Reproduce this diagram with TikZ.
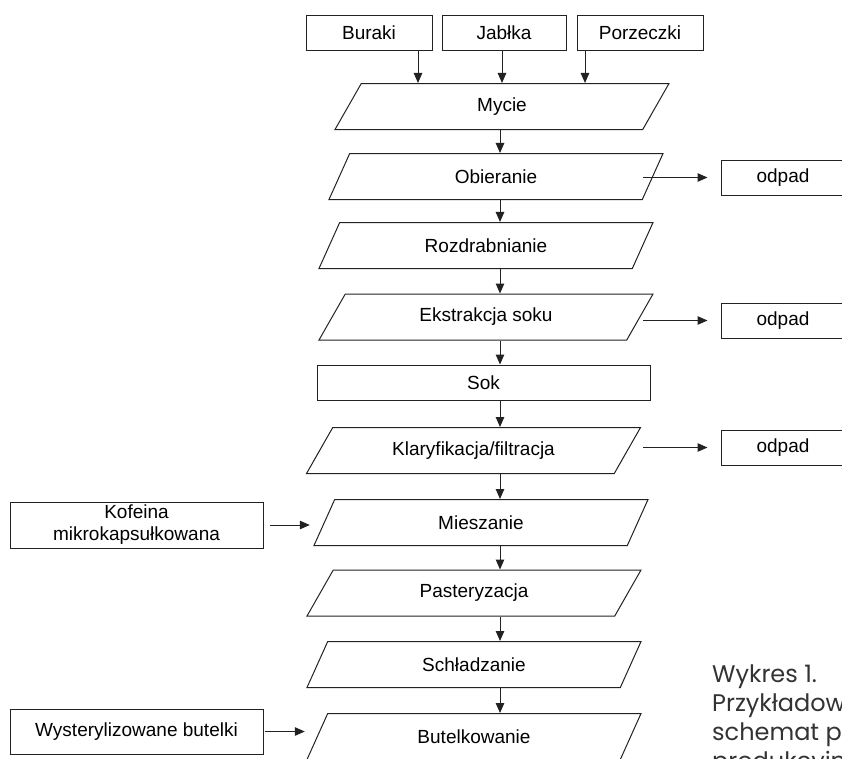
\documentclass[tikz,border=0pt]{standalone}
\usepackage{fontspec}
\setmainfont{Liberation Sans}
\newfontfamily\podpisfont{Poppins}
\usepackage{tikz}
\usepackage{xcolor}
\usetikzlibrary{shapes.geometric}
\usetikzlibrary{arrows.meta}

\definecolor{linia}{HTML}{222222}
\definecolor{podpis}{HTML}{333333}

\tikzset{
  krok/.style={draw=linia, line width=1pt, trapezium, trapezium left angle=34,
    trapezium right angle=146, trapezium stretches body=true,
    minimum width=334pt, minimum height=46pt, inner sep=0pt,
    font=\fontsize{19}{22}\selectfont},
  pudlo/.style={draw=linia, line width=1pt, rectangle, inner sep=0pt,
    align=center, font=\fontsize{19}{22}\selectfont},
  strz/.style={draw=linia, line width=1pt, -{Triangle[length=10pt,width=8.5pt]}},
  opis/.style={anchor=base west, inner sep=0pt, text=podpis,
    font=\podpisfont\fontsize{24}{29}\selectfont}
}

\begin{document}
\begin{tikzpicture}[x=1pt,y=-1pt]
\useasboundingbox (0,0) rectangle (842,758);
\clip (0,0) rectangle (842,758);

% surowce
\node[pudlo, minimum width=126, minimum height=35] (buraki) at (369,32.5) {Buraki};
\node[pudlo, minimum width=124, minimum height=35] (jablka) at (504,32.5) {Jabłka};
\node[pudlo, minimum width=126, minimum height=35] (porzeczki) at (640,32.5) {Porzeczki};

% etapy
\node[krok] (mycie) at (502,106.5) {Mycie};
\node[krok] (obieranie) at (496,176.5) {Obieranie};
\node[krok] (rozdrabnianie) at (486,245.5) {Rozdrabnianie};
\node[krok] (ekstrakcja) at (486,317) {Ekstrakcja soku};
\node[pudlo, minimum width=333, minimum height=35] (sok) at (483.5,382.5) {Sok};
\node[krok] (klaryfikacja) at (473.5,450.5) {Klaryfikacja/filtracja};
\node[krok] (mieszanie) at (481,522.5) {Mieszanie};
\node[krok] (pasteryzacja) at (474,593) {Pasteryzacja};
\node[krok] (schladzanie) at (474,664.5) {Schładzanie};
\node[krok] (butelkowanie) at (474,736.5) {Butelkowanie};

% odpady i dodatki
\node[pudlo, minimum width=124, minimum height=35] (odpad1) at (783,177.5) {odpad};
\node[pudlo, minimum width=124, minimum height=35] (odpad2) at (783,320.5) {odpad};
\node[pudlo, minimum width=124, minimum height=35] (odpad3) at (783,447.5) {odpad};
\node[pudlo, minimum width=253, minimum height=46] (kofeina) at (136.5,525) {Kofeina\\mikrokapsułkowana};
\node[pudlo, minimum width=253, minimum height=45] (butelki) at (136.5,731.5) {Wysterylizowane butelki};

% strzalki
\coordinate (w1) at (418,0);
\coordinate (w2) at (502,0);
\coordinate (w3) at (585,0);
\coordinate (os) at (500,0);
\coordinate (wy) at (643,0);
\draw[strz] (buraki.south -| w1) -- (mycie.north -| w1);
\draw[strz] (jablka.south -| w2) -- (mycie.north -| w2);
\draw[strz] (porzeczki.south -| w3) -- (mycie.north -| w3);
\foreach \a/\b in {mycie/obieranie, obieranie/rozdrabnianie, rozdrabnianie/ekstrakcja,
  ekstrakcja/sok, sok/klaryfikacja, klaryfikacja/mieszanie, mieszanie/pasteryzacja,
  pasteryzacja/schladzanie, schladzanie/butelkowanie}
  \draw[strz] (\a.south -| os) -- (\b.north -| os);
\foreach \o in {odpad1, odpad2, odpad3}
  \draw[strz, shorten >=13pt] (\o.west -| wy) -- (\o.west);
\draw[strz, shorten <=6pt, shorten >=14pt] (kofeina.east) -- (kofeina.east -| mieszanie.west);
\draw[strz, shorten <=1pt, shorten >=12pt] (butelki.east) -- (butelki.east -| butelkowanie.west);

% podpis
\node[opis] (opis1) at (712,682) {Wykres 1.};
\node[opis] (opis2) at (712,711) {Przykładow};
\node[opis] (opis3) at (712,740) {schemat pr};
\node[opis] (opis4) at (712,769) {produkcyjn};
\end{tikzpicture}
\end{document}
